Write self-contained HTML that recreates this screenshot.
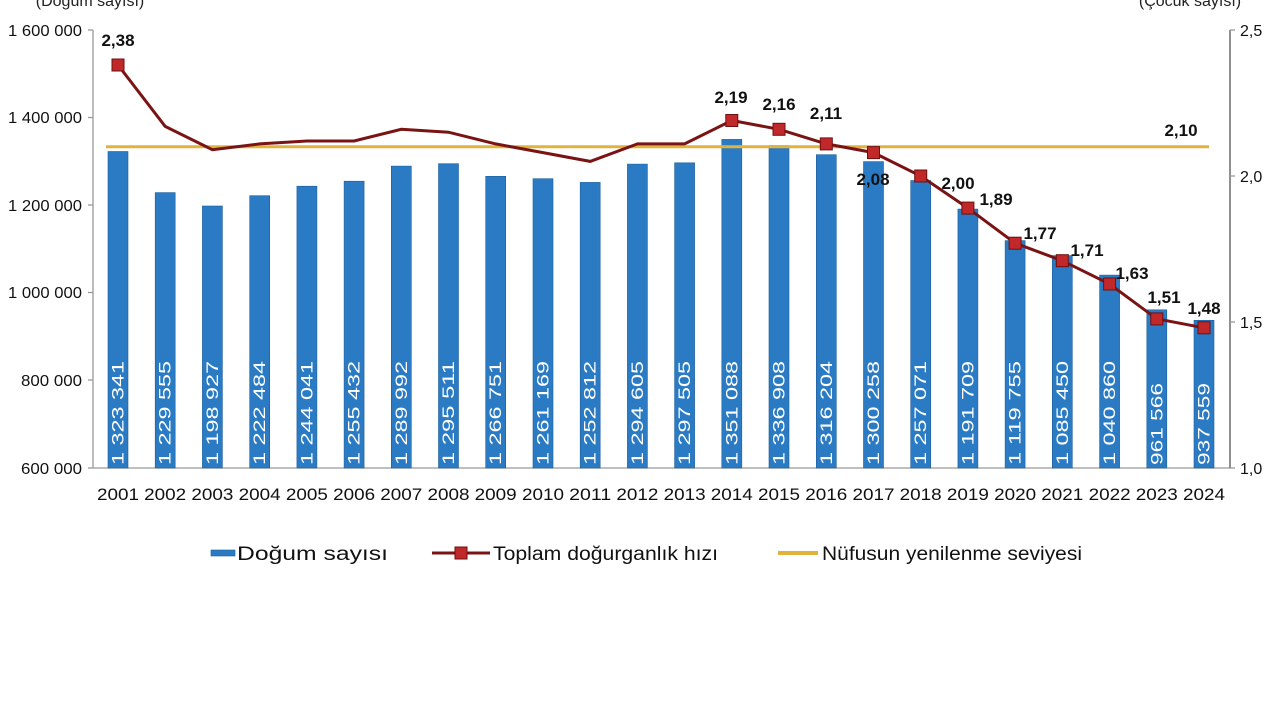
<!DOCTYPE html>
<html><head><meta charset="utf-8"><style>
html,body{margin:0;padding:0;background:#fff;}
svg{display:block;font-family:"Liberation Sans",sans-serif;}
</style></head><body>
<svg width="1280" height="720" viewBox="0 0 1280 720" xmlns="http://www.w3.org/2000/svg">
<rect width="1280" height="720" fill="#fff"/>
<text x="90" y="6" font-size="16" text-anchor="middle" fill="#222">(Doğum sayısı)</text>
<text x="1190" y="6" font-size="16" text-anchor="middle" fill="#222">(Çocuk sayısı)</text>
<g stroke="#999" stroke-width="1.3">
<line x1="93" y1="30" x2="93" y2="468"/>
<line x1="93" y1="468" x2="1230" y2="468"/>
<line x1="1230" y1="30" x2="1230" y2="468" stroke="#555"/>
<line x1="88" y1="30" x2="93" y2="30"/><line x1="88" y1="117.5" x2="93" y2="117.5"/><line x1="88" y1="205" x2="93" y2="205"/><line x1="88" y1="292.5" x2="93" y2="292.5"/><line x1="88" y1="380" x2="93" y2="380"/><line x1="88" y1="468" x2="93" y2="468"/>
<line x1="1230" y1="30" x2="1235" y2="30"/><line x1="1230" y1="176" x2="1235" y2="176"/><line x1="1230" y1="322" x2="1235" y2="322"/><line x1="1230" y1="468" x2="1235" y2="468"/>
</g>
<g font-size="16" fill="#111">
<text x="8" y="36" textLength="74" lengthAdjust="spacingAndGlyphs">1 600 000</text><text x="8" y="123" textLength="74" lengthAdjust="spacingAndGlyphs">1 400 000</text><text x="8" y="211" textLength="74" lengthAdjust="spacingAndGlyphs">1 200 000</text><text x="8" y="298" textLength="74" lengthAdjust="spacingAndGlyphs">1 000 000</text><text x="21" y="386" textLength="61" lengthAdjust="spacingAndGlyphs">800 000</text><text x="21" y="474" textLength="61" lengthAdjust="spacingAndGlyphs">600 000</text>
</g>
<g font-size="16" fill="#111">
<text x="1240" y="36">2,5</text><text x="1240" y="182">2,0</text><text x="1240" y="328">1,5</text><text x="1240" y="474">1,0</text>
</g>
<g fill="#2a7bc4" stroke="#1d5f9c" stroke-width="0.6">
<rect x="108" y="151.5" width="20" height="316.5"/>
<rect x="155.2" y="192.6" width="20" height="275.4"/>
<rect x="202.4" y="206" width="20" height="262"/>
<rect x="249.7" y="195.7" width="20" height="272.3"/>
<rect x="296.9" y="186.2" width="20" height="281.8"/>
<rect x="344.1" y="181.2" width="20" height="286.8"/>
<rect x="391.3" y="166.1" width="20" height="301.9"/>
<rect x="438.5" y="163.7" width="20" height="304.3"/>
<rect x="485.7" y="176.3" width="20" height="291.7"/>
<rect x="533" y="178.7" width="20" height="289.3"/>
<rect x="580.2" y="182.4" width="20" height="285.6"/>
<rect x="627.4" y="164.1" width="20" height="303.9"/>
<rect x="674.6" y="162.8" width="20" height="305.2"/>
<rect x="721.8" y="139.4" width="20" height="328.6"/>
<rect x="769" y="145.6" width="20" height="322.4"/>
<rect x="816.3" y="154.7" width="20" height="313.3"/>
<rect x="863.5" y="161.6" width="20" height="306.4"/>
<rect x="910.7" y="180.5" width="20" height="287.5"/>
<rect x="957.9" y="209.1" width="20" height="258.9"/>
<rect x="1005.1" y="240.6" width="20" height="227.4"/>
<rect x="1052.3" y="255.6" width="20" height="212.4"/>
<rect x="1099.6" y="275.1" width="20" height="192.9"/>
<rect x="1146.8" y="309.8" width="20" height="158.2"/>
<rect x="1194" y="320.3" width="20" height="147.7"/>
</g>
<g font-size="17" fill="#fff" dominant-baseline="central">
<text transform="translate(118,465) rotate(-90)" textLength="104" lengthAdjust="spacingAndGlyphs">1 323 341</text>
<text transform="translate(165.2,465) rotate(-90)" textLength="104" lengthAdjust="spacingAndGlyphs">1 229 555</text>
<text transform="translate(212.4,465) rotate(-90)" textLength="104" lengthAdjust="spacingAndGlyphs">1 198 927</text>
<text transform="translate(259.7,465) rotate(-90)" textLength="104" lengthAdjust="spacingAndGlyphs">1 222 484</text>
<text transform="translate(306.9,465) rotate(-90)" textLength="104" lengthAdjust="spacingAndGlyphs">1 244 041</text>
<text transform="translate(354.1,465) rotate(-90)" textLength="104" lengthAdjust="spacingAndGlyphs">1 255 432</text>
<text transform="translate(401.3,465) rotate(-90)" textLength="104" lengthAdjust="spacingAndGlyphs">1 289 992</text>
<text transform="translate(448.5,465) rotate(-90)" textLength="104" lengthAdjust="spacingAndGlyphs">1 295 511</text>
<text transform="translate(495.7,465) rotate(-90)" textLength="104" lengthAdjust="spacingAndGlyphs">1 266 751</text>
<text transform="translate(543,465) rotate(-90)" textLength="104" lengthAdjust="spacingAndGlyphs">1 261 169</text>
<text transform="translate(590.2,465) rotate(-90)" textLength="104" lengthAdjust="spacingAndGlyphs">1 252 812</text>
<text transform="translate(637.4,465) rotate(-90)" textLength="104" lengthAdjust="spacingAndGlyphs">1 294 605</text>
<text transform="translate(684.6,465) rotate(-90)" textLength="104" lengthAdjust="spacingAndGlyphs">1 297 505</text>
<text transform="translate(731.8,465) rotate(-90)" textLength="104" lengthAdjust="spacingAndGlyphs">1 351 088</text>
<text transform="translate(779,465) rotate(-90)" textLength="104" lengthAdjust="spacingAndGlyphs">1 336 908</text>
<text transform="translate(826.3,465) rotate(-90)" textLength="104" lengthAdjust="spacingAndGlyphs">1 316 204</text>
<text transform="translate(873.5,465) rotate(-90)" textLength="104" lengthAdjust="spacingAndGlyphs">1 300 258</text>
<text transform="translate(920.7,465) rotate(-90)" textLength="104" lengthAdjust="spacingAndGlyphs">1 257 071</text>
<text transform="translate(967.9,465) rotate(-90)" textLength="104" lengthAdjust="spacingAndGlyphs">1 191 709</text>
<text transform="translate(1015.1,465) rotate(-90)" textLength="104" lengthAdjust="spacingAndGlyphs">1 119 755</text>
<text transform="translate(1062.3,465) rotate(-90)" textLength="104" lengthAdjust="spacingAndGlyphs">1 085 450</text>
<text transform="translate(1109.6,465) rotate(-90)" textLength="104" lengthAdjust="spacingAndGlyphs">1 040 860</text>
<text transform="translate(1156.8,465) rotate(-90)" textLength="82" lengthAdjust="spacingAndGlyphs">961 566</text>
<text transform="translate(1204,465) rotate(-90)" textLength="82" lengthAdjust="spacingAndGlyphs">937 559</text>
</g>
<g font-size="17" fill="#111" text-anchor="middle">
<text x="118" y="500" textLength="42" lengthAdjust="spacingAndGlyphs">2001</text><text x="165.2" y="500" textLength="42" lengthAdjust="spacingAndGlyphs">2002</text><text x="212.4" y="500" textLength="42" lengthAdjust="spacingAndGlyphs">2003</text><text x="259.7" y="500" textLength="42" lengthAdjust="spacingAndGlyphs">2004</text><text x="306.9" y="500" textLength="42" lengthAdjust="spacingAndGlyphs">2005</text><text x="354.1" y="500" textLength="42" lengthAdjust="spacingAndGlyphs">2006</text><text x="401.3" y="500" textLength="42" lengthAdjust="spacingAndGlyphs">2007</text><text x="448.5" y="500" textLength="42" lengthAdjust="spacingAndGlyphs">2008</text><text x="495.7" y="500" textLength="42" lengthAdjust="spacingAndGlyphs">2009</text><text x="543" y="500" textLength="42" lengthAdjust="spacingAndGlyphs">2010</text><text x="590.2" y="500" textLength="42" lengthAdjust="spacingAndGlyphs">2011</text><text x="637.4" y="500" textLength="42" lengthAdjust="spacingAndGlyphs">2012</text><text x="684.6" y="500" textLength="42" lengthAdjust="spacingAndGlyphs">2013</text><text x="731.8" y="500" textLength="42" lengthAdjust="spacingAndGlyphs">2014</text><text x="779" y="500" textLength="42" lengthAdjust="spacingAndGlyphs">2015</text><text x="826.3" y="500" textLength="42" lengthAdjust="spacingAndGlyphs">2016</text><text x="873.5" y="500" textLength="42" lengthAdjust="spacingAndGlyphs">2017</text><text x="920.7" y="500" textLength="42" lengthAdjust="spacingAndGlyphs">2018</text><text x="967.9" y="500" textLength="42" lengthAdjust="spacingAndGlyphs">2019</text><text x="1015.1" y="500" textLength="42" lengthAdjust="spacingAndGlyphs">2020</text><text x="1062.3" y="500" textLength="42" lengthAdjust="spacingAndGlyphs">2021</text><text x="1109.6" y="500" textLength="42" lengthAdjust="spacingAndGlyphs">2022</text><text x="1156.8" y="500" textLength="42" lengthAdjust="spacingAndGlyphs">2023</text><text x="1204" y="500" textLength="42" lengthAdjust="spacingAndGlyphs">2024</text>
</g>
<line x1="106" y1="146.8" x2="1209" y2="146.8" stroke="#e0b43c" stroke-width="3"/>
<polyline fill="none" stroke="#7a1414" stroke-width="3" points="118,65 165.2,126.4 212.4,149.7 259.7,143.9 306.9,141 354.1,141 401.3,129.3 448.5,132.2 495.7,143.9 543,152.6 590.2,161.4 637.4,143.9 684.6,143.9 731.8,120.5 779,129.3 826.3,143.9 873.5,152.6 920.7,176 967.9,208.1 1015.1,243.2 1062.3,260.7 1109.6,284 1156.8,318.9 1204,327.8"/>
<g fill="#c0282a" stroke="#6e1010" stroke-width="1">
<rect x="112" y="59" width="12" height="12"/>
<rect x="725.8" y="114.5" width="12" height="12"/>
<rect x="773" y="123.3" width="12" height="12"/>
<rect x="820.3" y="137.9" width="12" height="12"/>
<rect x="867.5" y="146.6" width="12" height="12"/>
<rect x="914.7" y="170" width="12" height="12"/>
<rect x="961.9" y="202.1" width="12" height="12"/>
<rect x="1009.1" y="237.2" width="12" height="12"/>
<rect x="1056.3" y="254.7" width="12" height="12"/>
<rect x="1103.6" y="278" width="12" height="12"/>
<rect x="1150.8" y="312.9" width="12" height="12"/>
<rect x="1198" y="321.8" width="12" height="12"/>
</g>
<g font-size="17" font-weight="bold" fill="#111" text-anchor="middle">
<text x="118" y="46">2,38</text>
<text x="731" y="103">2,19</text>
<text x="779" y="110">2,16</text>
<text x="826" y="119">2,11</text>
<text x="873" y="185">2,08</text>
<text x="958" y="189">2,00</text>
<text x="996" y="205">1,89</text>
<text x="1040" y="239">1,77</text>
<text x="1087" y="256">1,71</text>
<text x="1132" y="279">1,63</text>
<text x="1164" y="303">1,51</text>
<text x="1204" y="314">1,48</text>
<text x="1181" y="136">2,10</text>
</g>
<g font-size="19" fill="#111">
<rect x="211" y="550" width="24" height="6" fill="#2a7bc4" stroke="#1d5f9c" stroke-width="0.6"/>
<text x="237" y="560" textLength="151" lengthAdjust="spacingAndGlyphs">Doğum sayısı</text>
<line x1="432" y1="553" x2="490" y2="553" stroke="#7a1414" stroke-width="3"/>
<rect x="455" y="547" width="12" height="12" fill="#c0282a" stroke="#6e1010"/>
<text x="493" y="560" textLength="225" lengthAdjust="spacingAndGlyphs">Toplam doğurganlık hızı</text>
<line x1="778" y1="553" x2="818" y2="553" stroke="#e0b43c" stroke-width="4"/>
<text x="822" y="560" textLength="260" lengthAdjust="spacingAndGlyphs">Nüfusun yenilenme seviyesi</text>
</g>
</svg>
</body></html>
